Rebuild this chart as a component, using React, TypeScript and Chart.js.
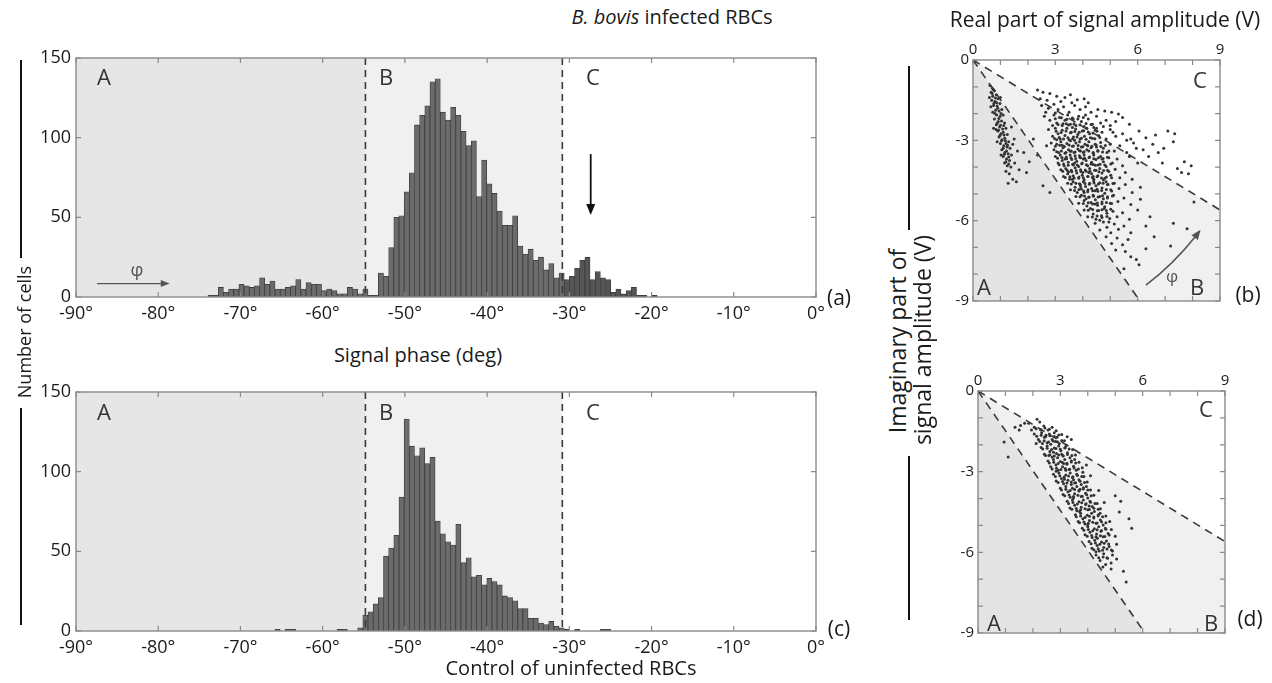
import React, { useEffect, useRef } from "react";
import { Chart, registerables } from "chart.js";
Chart.register(...registerables);

const FONT = "'Open Sans', 'Noto Sans', sans-serif";

// ---------- histogram data ----------
const BIN_START = -53.23; // left edge of bin index 0 (deg)
const BIN_WIDTH = 0.628; // deg
const infectedFirstBin = -33;
const infectedCounts = [
  1, 1, 6, 3, 5, 5, 8, 7, 6, 7, 12, 8, 10, 5, 5, 6, 7, 11, 5, 9, 8, 8, 4, 5, 4, 2, 2, 6, 5, 2, 5, 1, 1,
  15, 13, 31, 50, 51, 66, 78, 108, 114, 120, 135, 137, 116, 111, 119, 114, 104, 95, 98, 63, 86, 71, 65, 54,
  45, 45, 51, 32, 27, 30, 23, 25, 17, 21, 12, 15, 11, 13, 18, 23, 25, 11, 16, 12, 11, 3, 5, 2, 4, 6, 1, 1, 0, 1,
];
const controlFirstBin = -20;
const controlCounts = [
  1, 0, 1, 1, 0, 0, 0, 0, 0, 0, 0, 0, 1, 1, 0, 0, 2, 10, 12, 17,
  21, 47, 52, 60, 84, 133, 116, 110, 115, 105, 109, 69, 61, 56, 54, 67, 43, 46, 34, 35, 29, 33, 31, 29, 22,
  21, 19, 14, 14, 8, 8, 5, 4, 6, 3, 2, 1, 0, 1, 0, 0, 0, 0, 1, 1,
];
const phaseTicks = [-90, -80, -70, -60, -50, -40, -30, -20, -10, 0];
const countTicks = [0, 50, 100, 150];
const boundaryAB = -54.8;
const boundaryBC = -30.85;

// ---------- scatter data (Re, Im) in V ----------
const ampTicks = [0, 1, 2, 3, 4, 5, 6, 7, 8, 9];
const imagTicks = [0, -1, -2, -3, -4, -5, -6, -7, -8, -9];
const lineABEnd = [6.08, -9];
const lineBCEnd = [9, -5.6];

const infectedIQ = [
  [0.62,-0.95],[0.7,-1.05],[0.66,-1.2],[0.78,-1.15],[0.72,-1.35],[0.85,-1.3],[0.68,-1.5],[0.8,-1.55],[0.92,-1.45],[0.75,-1.7],
  [0.88,-1.72],[0.98,-1.62],[0.82,-1.88],[0.95,-1.9],[0.72,-1.95],[1.05,-1.85],[0.86,-2.05],[0.99,-2.1],[0.78,-2.2],[1.1,-2.05],
  [0.92,-2.3],[1.04,-2.28],[0.85,-2.42],[1.15,-2.35],[0.97,-2.5],[1.08,-2.58],[0.9,-2.65],[1.2,-2.55],[1.02,-2.75],[1.13,-2.8],
  [0.95,-2.88],[1.25,-2.78],[1.06,-2.98],[1.18,-3.02],[1.0,-3.12],[1.3,-3.05],[1.12,-3.2],[1.24,-3.25],[1.05,-3.35],[1.35,-3.3],
  [1.16,-3.45],[1.28,-3.5],[1.1,-3.6],[1.4,-3.55],[1.22,-3.7],[1.33,-3.75],[1.15,-3.85],[1.25,-3.95],[1.38,-4.0],[1.2,-4.15],
  [1.32,-4.25],[1.45,-4.45],[1.58,-4.55],[1.52,-3.85],[0.6,-1.4],[0.75,-2.55],[0.88,-3.05],[1.45,-3.15],[1.5,-2.95],[1.62,-3.4],
  [1.4,-2.5],[0.65,-1.75],[1.0,-1.4],[1.12,-2.45],[1.02,-3.55],[1.28,-4.6],[1.68,-4.1],
  [2.05,-3.8],[2.35,-3.55],[1.85,-3.45],[2.2,-2.95],[2.68,-3.2],[2.55,-4.7],[1.95,-4.2],[2.8,-4.95],
  [2.35,-1.12],[2.55,-1.2],[2.8,-1.25],[3.05,-1.35],[3.35,-1.4],[3.55,-1.3],[3.8,-1.48],[2.45,-1.45],[2.7,-1.5],[3.2,-1.55],[4.05,-1.45],
  [2.5,-1.7],[2.75,-1.8],[2.95,-1.65],[3.1,-1.85],[3.3,-1.75],[3.5,-1.95],[3.7,-1.7],[3.9,-1.85],[4.1,-1.75],[4.3,-1.95],
  [4.55,-1.85],[4.8,-1.9],[5.05,-1.95],[2.65,-1.95],[3.0,-1.98],[3.6,-1.6],[4.2,-1.6],
  [2.6,-2.1],[2.8,-2.25],[2.95,-2.05],[3.05,-2.35],[3.15,-2.15],[3.25,-2.45],[3.35,-2.25],[3.45,-2.05],[3.55,-2.4],[3.65,-2.2],
  [3.75,-2.45],[3.85,-2.1],[3.95,-2.3],[4.05,-2.48],[4.2,-2.2],[4.35,-2.4],[4.5,-2.1],[4.65,-2.35],[4.85,-2.25],[5.0,-2.45],
  [5.2,-2.3],[5.45,-2.15],[5.7,-2.4],[2.9,-2.45],[3.4,-2.38],[4.1,-2.05],[4.75,-2.48],[5.3,-2.02],
  [2.75,-2.6],[2.9,-2.85],[3.0,-2.55],[3.1,-2.75],[3.18,-2.95],[3.25,-2.62],[3.35,-2.82],[3.42,-2.55],[3.5,-2.98],[3.58,-2.7],
  [3.66,-2.88],[3.74,-2.58],[3.82,-2.78],[3.9,-2.95],[3.98,-2.65],[4.06,-2.85],[4.15,-2.55],[4.25,-2.75],[4.35,-2.92],[4.45,-2.62],
  [4.58,-2.82],[4.7,-2.7],[4.85,-2.95],[5.0,-2.6],[5.2,-2.85],[5.45,-2.75],[5.75,-2.95],[6.05,-2.65],[6.3,-2.9],[6.65,-2.8],
  [7.35,-2.75],[3.05,-2.98],[3.62,-2.52],[4.4,-2.52],
  [2.85,-3.1],[2.95,-3.35],[3.05,-3.15],[3.12,-3.45],[3.2,-3.05],[3.28,-3.28],[3.35,-3.48],[3.42,-3.12],[3.48,-3.35],[3.55,-3.02],
  [3.62,-3.22],[3.68,-3.45],[3.75,-3.1],[3.82,-3.32],[3.88,-3.05],[3.95,-3.25],[4.02,-3.45],[4.08,-3.15],[4.15,-3.35],[4.22,-3.05],
  [4.3,-3.28],[4.38,-3.48],[4.45,-3.15],[4.55,-3.38],[4.65,-3.08],[4.75,-3.3],[4.88,-3.45],[5.0,-3.15],[5.15,-3.4],[5.35,-3.2],
  [5.6,-3.45],[5.85,-3.1],[6.2,-3.35],[6.55,-3.15],[6.95,-3.3],[7.3,-3.05],[3.25,-3.18],[3.58,-3.4],[3.92,-3.4],[4.18,-3.2],
  [4.5,-3.25],[3.7,-3.0],
  [3.0,-3.6],[3.1,-3.85],[3.18,-3.55],[3.25,-3.75],[3.32,-3.95],[3.4,-3.62],[3.47,-3.82],[3.54,-3.55],[3.6,-3.72],[3.66,-3.92],
  [3.72,-3.58],[3.78,-3.78],[3.85,-3.98],[3.92,-3.65],[3.98,-3.85],[4.05,-3.55],[4.12,-3.75],[4.18,-3.95],[4.25,-3.62],[4.32,-3.82],
  [4.4,-3.55],[4.48,-3.72],[4.56,-3.92],[4.65,-3.6],[4.75,-3.8],[4.85,-3.98],[4.95,-3.65],[5.08,-3.85],[5.25,-3.7],[5.45,-3.95],
  [5.7,-3.6],[6.0,-3.85],[7.7,-3.8],[7.95,-3.95],[3.35,-3.7],[3.7,-3.85],[4.02,-3.7],[4.38,-3.9],[4.7,-3.7],[3.88,-3.58],
  [3.2,-4.1],[3.3,-4.35],[3.38,-4.05],[3.45,-4.25],[3.52,-4.45],[3.58,-4.12],[3.65,-4.32],[3.72,-4.02],[3.78,-4.22],[3.85,-4.42],
  [3.92,-4.1],[3.98,-4.3],[4.05,-4.48],[4.12,-4.15],[4.18,-4.35],[4.25,-4.05],[4.32,-4.25],[4.4,-4.45],[4.48,-4.12],[4.55,-4.32],
  [4.62,-4.05],[4.7,-4.22],[4.8,-4.42],[4.9,-4.12],[5.02,-4.3],[5.18,-4.08],[5.35,-4.4],[5.55,-4.2],[5.8,-4.45],[7.6,-4.2],
  [3.62,-4.45],[4.0,-4.2],[4.38,-4.35],[4.75,-4.48],[3.48,-4.18],[4.22,-4.2],
  [3.45,-4.6],[3.55,-4.85],[3.65,-4.55],[3.72,-4.75],[3.8,-4.95],[3.88,-4.62],[3.95,-4.82],[4.02,-4.55],[4.1,-4.72],[4.18,-4.92],
  [4.25,-4.6],[4.32,-4.8],[4.4,-4.52],[4.48,-4.7],[4.55,-4.9],[4.62,-4.58],[4.7,-4.78],[4.8,-4.98],[4.9,-4.65],[5.02,-4.85],
  [5.15,-4.6],[5.32,-4.8],[5.55,-4.65],[5.8,-4.95],[6.1,-4.75],[4.05,-4.95],[4.45,-4.88],[4.85,-4.55],[3.92,-4.72],
  [3.75,-5.1],[3.85,-5.35],[3.95,-5.05],[4.05,-5.25],[4.15,-5.45],[4.22,-5.12],[4.3,-5.32],[4.38,-5.05],[4.46,-5.22],[4.54,-5.42],
  [4.62,-5.1],[4.7,-5.3],[4.8,-5.48],[4.9,-5.15],[5.0,-5.35],[5.12,-5.05],[5.28,-5.28],[5.5,-5.15],[5.75,-5.4],[6.1,-5.2],
  [4.45,-5.38],[4.75,-5.18],[4.12,-5.18],
  [4.05,-5.6],[4.18,-5.85],[4.28,-5.55],[4.38,-5.75],[4.48,-5.95],[4.58,-5.62],[4.68,-5.82],[4.78,-5.55],[4.88,-5.72],[4.98,-5.92],
  [5.1,-5.65],[5.25,-5.85],[5.45,-5.7],[5.7,-5.95],[6.0,-5.6],[6.45,-5.85],[8.05,-5.3],[4.62,-5.98],
  [4.45,-6.1],[4.62,-6.35],[4.75,-6.05],[4.88,-6.25],[5.02,-6.45],[5.15,-6.12],[5.3,-6.32],[5.5,-6.2],[5.75,-6.45],[6.3,-6.2],
  [7.3,-6.1],[7.8,-6.3],[4.95,-6.05],
  [4.85,-6.6],[5.05,-6.85],[5.25,-6.65],[5.45,-6.9],[5.65,-6.7],[6.6,-6.6],[7.2,-6.95],
  [5.2,-7.1],[5.55,-7.15],[5.75,-7.35],[6.3,-7.05],[5.5,-7.8],[6.05,-7.65],[5.95,-7.45],
  [4.5,-2.55],[5.1,-2.7],[5.6,-3.0],[6.4,-3.6],[6.9,-3.85],[7.45,-4.05],[6.75,-3.45],[5.95,-3.3],[7.1,-2.65],[7.85,-4.25],
];
const infectedIQCore = [
  [3.03,-2.66],[3.21,-2.71],[3.39,-2.65],[3.55,-2.72],[3.71,-2.67],[3.87,-2.7],[4.03,-2.64],[4.2,-2.69],[4.37,-2.73],[4.52,-2.66],
  [2.97,-2.93],[3.14,-2.89],[3.3,-2.95],[3.46,-2.9],[3.63,-2.94],[3.79,-2.88],[3.95,-2.92],[4.12,-2.96],[4.28,-2.9],[4.44,-2.94],[4.62,-2.89],
  [3.0,-3.22],[3.16,-3.18],[3.33,-3.23],[3.5,-3.17],[3.66,-3.21],[3.83,-3.19],[4.0,-3.24],[4.16,-3.18],[4.33,-3.22],[4.49,-3.17],[4.66,-3.23],[4.82,-3.19],
  [3.05,-3.43],[3.22,-3.4],[3.39,-3.45],[3.55,-3.41],[3.72,-3.44],[3.88,-3.39],[4.05,-3.43],[4.22,-3.4],[4.38,-3.45],[4.55,-3.41],[4.72,-3.44],[4.95,-3.4],
  [3.08,-3.67],[3.24,-3.64],[3.41,-3.69],[3.57,-3.65],[3.74,-3.68],[3.9,-3.63],[4.07,-3.67],[4.23,-3.64],[4.4,-3.69],[4.57,-3.65],[4.74,-3.68],[4.9,-3.63],
  [3.14,-3.91],[3.3,-3.88],[3.47,-3.93],[3.63,-3.89],[3.8,-3.92],[3.96,-3.87],[4.13,-3.91],[4.3,-3.88],[4.46,-3.93],[4.63,-3.89],[4.8,-3.92],[5.02,-3.88],
  [3.27,-4.15],[3.43,-4.12],[3.6,-4.17],[3.76,-4.13],[3.93,-4.16],[4.09,-4.11],[4.26,-4.15],[4.43,-4.12],[4.59,-4.17],[4.76,-4.13],[4.95,-4.16],
  [3.36,-4.39],[3.53,-4.36],[3.69,-4.41],[3.86,-4.37],[4.02,-4.4],[4.19,-4.35],[4.35,-4.39],[4.52,-4.36],[4.68,-4.41],[4.86,-4.37],[5.05,-4.4],
  [3.58,-4.63],[3.75,-4.6],[3.91,-4.65],[4.08,-4.61],[4.24,-4.64],[4.41,-4.59],[4.57,-4.63],[4.74,-4.6],[4.92,-4.65],[5.1,-4.61],
  [3.7,-4.87],[3.86,-4.84],[4.03,-4.89],[4.19,-4.85],[4.36,-4.88],[4.52,-4.83],[4.69,-4.87],[4.86,-4.84],[5.05,-4.89],
  [3.9,-5.11],[4.06,-5.08],[4.23,-5.13],[4.39,-5.09],[4.56,-5.12],[4.72,-5.07],[4.9,-5.11],[5.08,-5.08],
  [4.02,-5.36],[4.2,-5.33],[4.36,-5.38],[4.53,-5.34],[4.7,-5.37],[4.86,-5.32],[5.05,-5.36],
  [4.2,-5.61],[4.36,-5.58],[4.53,-5.63],[4.7,-5.59],[4.86,-5.62],[5.02,-5.57],
  [4.35,-5.86],[4.52,-5.83],[4.7,-5.88],[4.88,-5.84],
  [3.1,-2.41],[3.28,-2.38],[3.48,-2.43],[3.68,-2.39],[3.9,-2.42],[4.12,-2.37],[4.3,-2.41],
  [3.0,-2.19],[3.22,-2.16],[3.42,-2.21],[3.62,-2.17],[3.82,-2.2],[4.02,-2.15],
  [0.7,-1.25],[0.82,-1.42],[0.76,-1.62],[0.9,-1.8],[0.8,-2.0],[0.94,-2.18],[0.88,-2.36],[1.0,-2.44],[0.93,-2.62],[1.1,-2.7],
  [0.98,-2.82],[1.16,-2.92],[1.04,-3.02],[1.2,-3.12],[1.1,-3.3],[1.22,-3.4],[1.14,-3.52],[1.3,-3.62],[1.2,-3.8],[1.3,-3.88],
  [0.74,-1.1],[0.86,-1.6],[1.02,-2.0],[0.84,-2.6],[1.26,-3.18],
];

const controlIQ = [
  [1.85,-1.2],[2.05,-1.35],[2.25,-1.15],[2.4,-1.3],[2.55,-1.45],[2.3,-1.45],[2.7,-1.35],[1.95,-1.45],[2.15,-1.05],[2.85,-1.48],
  [2.05,-1.6],[2.2,-1.8],[2.32,-1.55],[2.42,-1.72],[2.52,-1.92],[2.6,-1.6],[2.7,-1.8],[2.78,-1.55],[2.88,-1.72],[2.96,-1.95],
  [3.05,-1.62],[3.15,-1.85],[3.25,-1.7],[2.35,-1.95],[2.65,-1.98],[2.48,-1.65],[2.82,-1.88],[3.4,-1.8],[2.12,-1.95],
  [2.3,-2.1],[2.42,-2.35],[2.52,-2.05],[2.62,-2.25],[2.7,-2.45],[2.78,-2.12],[2.86,-2.32],[2.94,-2.05],[3.02,-2.22],[3.1,-2.42],
  [3.18,-2.1],[3.26,-2.3],[3.35,-2.48],[3.45,-2.18],[3.55,-2.38],[2.58,-2.4],[2.9,-2.48],[3.22,-2.02],[2.75,-2.28],[3.05,-2.35],
  [2.55,-2.6],[2.65,-2.82],[2.75,-2.55],[2.84,-2.75],[2.92,-2.95],[3.0,-2.62],[3.08,-2.82],[3.16,-2.55],[3.24,-2.72],[3.32,-2.92],
  [3.4,-2.6],[3.48,-2.8],[3.58,-2.95],[3.68,-2.65],[3.8,-2.85],[2.85,-2.98],[3.2,-2.95],[3.52,-2.55],[3.12,-2.7],[3.95,-2.75],
  [2.75,-3.1],[2.85,-3.35],[2.95,-3.05],[3.04,-3.25],[3.12,-3.45],[3.2,-3.12],[3.28,-3.32],[3.36,-3.05],[3.44,-3.22],[3.52,-3.42],
  [3.6,-3.1],[3.68,-3.3],[3.76,-3.48],[3.86,-3.18],[3.98,-3.38],[4.1,-3.15],[3.15,-3.28],[3.48,-3.3],[3.82,-3.02],[3.4,-3.48],
  [3.0,-3.62],[3.1,-3.85],[3.2,-3.55],[3.28,-3.75],[3.36,-3.95],[3.44,-3.62],[3.52,-3.82],[3.6,-3.55],[3.68,-3.72],[3.76,-3.92],
  [3.84,-3.6],[3.92,-3.8],[4.0,-3.98],[4.1,-3.68],[4.22,-3.88],[4.4,-3.7],[5.0,-3.9],[3.48,-3.98],[3.72,-3.65],[3.95,-3.55],
  [3.25,-4.1],[3.35,-4.35],[3.44,-4.05],[3.52,-4.25],[3.6,-4.45],[3.68,-4.12],[3.76,-4.32],[3.84,-4.05],[3.92,-4.22],[4.0,-4.42],
  [4.08,-4.1],[4.16,-4.3],[4.24,-4.48],[4.34,-4.18],[4.46,-4.38],[4.6,-4.15],[5.2,-4.1],[5.15,-4.5],[3.7,-4.48],[4.05,-4.28],
  [3.55,-4.6],[3.65,-4.85],[3.74,-4.55],[3.82,-4.75],[3.9,-4.95],[3.98,-4.62],[4.06,-4.82],[4.14,-4.55],[4.22,-4.72],[4.3,-4.92],
  [4.38,-4.6],[4.46,-4.8],[4.56,-4.98],[4.66,-4.65],[4.8,-4.85],[5.5,-4.75],[4.0,-4.98],[4.45,-4.55],
  [3.8,-5.1],[3.9,-5.35],[4.0,-5.05],[4.08,-5.25],[4.16,-5.45],[4.24,-5.12],[4.32,-5.32],[4.4,-5.05],[4.48,-5.22],[4.56,-5.42],
  [4.64,-5.1],[4.74,-5.3],[4.86,-5.15],[5.0,-5.4],[5.6,-5.1],[4.35,-5.48],
  [4.05,-5.6],[4.15,-5.85],[4.25,-5.55],[4.34,-5.75],[4.42,-5.95],[4.5,-5.62],[4.58,-5.82],[4.68,-5.58],[4.78,-5.78],[4.9,-5.95],
  [5.05,-5.7],[4.3,-5.98],
  [4.3,-6.1],[4.45,-6.3],[4.58,-6.05],[4.7,-6.2],[4.85,-6.4],[4.55,-6.55],[4.9,-6.1],[5.05,-6.25],[4.85,-6.62],[5.3,-6.7],
  [5.4,-7.1],[4.65,-6.45],
  [1.35,-1.35],[1.5,-1.45],[1.7,-1.2],[0.95,-1.9],[1.1,-2.45],[1.55,-1.28],
];
const controlIQCore = [
  [2.12,-1.4],[2.28,-1.43],[2.44,-1.38],[2.6,-1.42],
  [2.14,-1.68],[2.3,-1.65],[2.46,-1.7],[2.62,-1.66],[2.78,-1.69],[2.94,-1.64],
  [2.25,-1.88],[2.41,-1.85],[2.57,-1.9],[2.73,-1.86],[2.89,-1.89],[3.05,-1.84],
  [2.36,-2.16],[2.52,-2.13],[2.68,-2.18],[2.84,-2.14],[3.0,-2.17],[3.16,-2.12],[3.32,-2.16],
  [2.46,-2.4],[2.62,-2.37],[2.78,-2.42],[2.94,-2.38],[3.1,-2.41],[3.26,-2.36],[3.42,-2.4],
  [2.6,-2.68],[2.76,-2.65],[2.92,-2.7],[3.08,-2.66],[3.24,-2.69],[3.4,-2.64],[3.56,-2.68],
  [2.7,-2.9],[2.86,-2.87],[3.02,-2.92],[3.18,-2.88],[3.34,-2.91],[3.5,-2.86],[3.66,-2.9],
  [2.82,-3.18],[2.98,-3.15],[3.14,-3.2],[3.3,-3.16],[3.46,-3.19],[3.62,-3.14],[3.78,-3.18],
  [2.92,-3.4],[3.08,-3.37],[3.24,-3.42],[3.4,-3.38],[3.56,-3.41],[3.72,-3.36],[3.88,-3.4],
  [3.04,-3.68],[3.2,-3.65],[3.36,-3.7],[3.52,-3.66],[3.68,-3.69],[3.84,-3.64],[4.0,-3.68],
  [3.16,-3.9],[3.32,-3.87],[3.48,-3.92],[3.64,-3.88],[3.8,-3.91],[3.96,-3.86],[4.12,-3.9],
  [3.3,-4.18],[3.46,-4.15],[3.62,-4.2],[3.78,-4.16],[3.94,-4.19],[4.1,-4.14],[4.26,-4.18],
  [3.42,-4.4],[3.58,-4.37],[3.74,-4.42],[3.9,-4.38],[4.06,-4.41],[4.22,-4.36],[4.38,-4.4],
  [3.58,-4.68],[3.74,-4.65],[3.9,-4.7],[4.06,-4.66],[4.22,-4.69],[4.38,-4.64],[4.54,-4.68],
  [3.7,-4.9],[3.86,-4.87],[4.02,-4.92],[4.18,-4.88],[4.34,-4.91],[4.5,-4.86],[4.66,-4.9],
  [3.86,-5.18],[4.02,-5.15],[4.18,-5.2],[4.34,-5.16],[4.5,-5.19],[4.66,-5.14],
  [3.98,-5.4],[4.14,-5.37],[4.3,-5.42],[4.46,-5.38],[4.62,-5.41],[4.78,-5.36],
  [4.12,-5.68],[4.28,-5.65],[4.44,-5.7],[4.6,-5.66],[4.76,-5.69],
  [4.22,-5.9],[4.38,-5.87],[4.54,-5.92],[4.7,-5.88],[4.86,-5.91],
  [4.4,-6.2],[4.56,-6.17],[4.72,-6.22],
];

// ---------- helpers ----------
function arrowHead(ctx: CanvasRenderingContext2D, x: number, y: number, ang: number, len: number, half: number) {
  ctx.beginPath();
  ctx.moveTo(x, y);
  ctx.lineTo(x - len * Math.cos(ang) + half * Math.sin(ang), y - len * Math.sin(ang) - half * Math.cos(ang));
  ctx.lineTo(x - len * Math.cos(ang) - half * Math.sin(ang), y - len * Math.sin(ang) + half * Math.cos(ang));
  ctx.closePath();
  ctx.fill();
}

function frameAndTicks(chart: any, xt: number[], yt: number[]) {
  const { ctx, chartArea: a, scales } = chart;
  const x = scales.x, y = scales.y;
  ctx.save();
  ctx.strokeStyle = "#8a8a8a";
  ctx.lineWidth = 1.4;
  ctx.setLineDash([]);
  ctx.strokeRect(a.left, a.top, a.right - a.left, a.bottom - a.top);
  ctx.lineWidth = 1.2;
  const L = 5;
  ctx.beginPath();
  xt.forEach((v) => {
    const p = x.getPixelForValue(v);
    ctx.moveTo(p, a.top); ctx.lineTo(p, a.top + L);
    ctx.moveTo(p, a.bottom); ctx.lineTo(p, a.bottom - L);
  });
  yt.forEach((v) => {
    const p = y.getPixelForValue(v);
    ctx.moveTo(a.left, p); ctx.lineTo(a.left + L, p);
    ctx.moveTo(a.right, p); ctx.lineTo(a.right - L, p);
  });
  ctx.stroke();
  ctx.restore();
}

function histPlugin(showArrows: boolean) {
  return {
    id: "histDecor",
    beforeDatasetsDraw(chart: any) {
      const { ctx, chartArea: a, scales } = chart;
      const x = scales.x;
      const xAB = x.getPixelForValue(boundaryAB), xBC = x.getPixelForValue(boundaryBC);
      ctx.save();
      ctx.fillStyle = "#e6e6e6";
      ctx.fillRect(a.left, a.top, xAB - a.left, a.bottom - a.top);
      ctx.fillStyle = "#f0f0f0";
      ctx.fillRect(xAB, a.top, xBC - xAB, a.bottom - a.top);
      ctx.restore();
    },
    afterDatasetsDraw(chart: any) {
      const { ctx, chartArea: a, scales } = chart;
      const x = scales.x, y = scales.y;
      ctx.save();
      ctx.strokeStyle = "#3a3a3a";
      ctx.lineWidth = 1.6;
      ctx.setLineDash([7, 5]);
      [boundaryAB, boundaryBC].forEach((v) => {
        const p = x.getPixelForValue(v);
        ctx.beginPath(); ctx.moveTo(p, a.top); ctx.lineTo(p, a.bottom); ctx.stroke();
      });
      ctx.setLineDash([]);
      if (showArrows) {
        ctx.strokeStyle = "#555"; ctx.fillStyle = "#555"; ctx.lineWidth = 1.4;
        const x0 = x.getPixelForValue(-87.45), x1 = x.getPixelForValue(-78.6), yy = y.getPixelForValue(8.4);
        ctx.beginPath(); ctx.moveTo(x0, yy); ctx.lineTo(x1 - 6, yy); ctx.stroke();
        arrowHead(ctx, x1, yy, 0, 9, 3.5);
        ctx.strokeStyle = "#111"; ctx.fillStyle = "#111"; ctx.lineWidth = 1.8;
        const ax = x.getPixelForValue(-27.4), ay0 = y.getPixelForValue(89.7), ay1 = y.getPixelForValue(51.5);
        ctx.beginPath(); ctx.moveTo(ax, ay0); ctx.lineTo(ax, ay1 - 8); ctx.stroke();
        arrowHead(ctx, ax, ay1, Math.PI / 2, 11, 4.5);
      }
      ctx.restore();
      frameAndTicks(chart, phaseTicks, countTicks);
    },
  };
}

function scatterPlugin(showArc: boolean) {
  return {
    id: "iqDecor",
    beforeDatasetsDraw(chart: any) {
      const { ctx, scales } = chart;
      const x = scales.x, y = scales.y;
      const P = (a: number, b: number) => [x.getPixelForValue(a), y.getPixelForValue(b)];
      ctx.save();
      ctx.fillStyle = "#e4e4e4";
      ctx.beginPath();
      [[0, 0], lineABEnd, [0, -9]].forEach((q, i) => { const [px, py] = P(q[0], q[1]); i ? ctx.lineTo(px, py) : ctx.moveTo(px, py); });
      ctx.closePath(); ctx.fill();
      ctx.fillStyle = "#f0f0f0";
      ctx.beginPath();
      [[0, 0], lineBCEnd, [9, -9], lineABEnd].forEach((q, i) => { const [px, py] = P(q[0], q[1]); i ? ctx.lineTo(px, py) : ctx.moveTo(px, py); });
      ctx.closePath(); ctx.fill();
      ctx.restore();
    },
    afterDatasetsDraw(chart: any) {
      const { ctx, scales } = chart;
      const x = scales.x, y = scales.y;
      const P = (a: number, b: number) => [x.getPixelForValue(a), y.getPixelForValue(b)];
      ctx.save();
      ctx.strokeStyle = "#3a3a3a";
      ctx.lineWidth = 1.6;
      ctx.setLineDash([8, 6]);
      const [ox, oy] = P(0, 0);
      [lineABEnd, lineBCEnd].forEach((q) => {
        const [px, py] = P(q[0], q[1]);
        ctx.beginPath(); ctx.moveTo(ox, oy); ctx.lineTo(px, py); ctx.stroke();
      });
      ctx.setLineDash([]);
      if (showArc) {
        const [sx, sy] = P(6.3, -8.41);
        const [ex, ey] = P(8.31, -6.35);
        const r = Math.hypot(sx - ox, sy - oy);
        const a0 = Math.atan2(sy - oy, sx - ox), a1 = Math.atan2(ey - oy, ex - ox);
        ctx.strokeStyle = "#555"; ctx.fillStyle = "#555"; ctx.lineWidth = 1.6;
        ctx.beginPath(); ctx.arc(ox, oy, r, a0, a1 + 0.03, true); ctx.stroke();
        const hx = ox + r * Math.cos(a1), hy = oy + r * Math.sin(a1);
        arrowHead(ctx, hx, hy, Math.atan2(-Math.cos(a1), Math.sin(a1)), 10, 4);
      }
      ctx.restore();
      frameAndTicks(chart, ampTicks, imagTicks);
    },
  };
}

const tickFont = { family: FONT, size: 18 };

function histConfig(first: number, counts: number[], arrows: boolean): any {
  const data = counts.map((c, i) => ({ x: BIN_START + (first + i + 0.5) * BIN_WIDTH, y: c }));
  return {
    type: "bar",
    data: {
      datasets: [{
        data,
        backgroundColor: data.map((d) => (d.x > boundaryBC ? "#555555" : "#6b6b6b")),
        borderColor: "#3c3c3c",
        borderWidth: 0.8,
        borderSkipped: "bottom",
        barPercentage: 1,
        categoryPercentage: 1,
      }],
    },
    options: {
      animation: false,
      responsive: false,
      layout: { padding: { top: 18, right: 34, left: 0, bottom: 0 } },
      plugins: { legend: { display: false }, tooltip: { enabled: false } },
      scales: {
        x: {
          type: "linear", min: -90, max: 0, offset: false,
          afterBuildTicks: (s: any) => { s.ticks = phaseTicks.map((v) => ({ value: v })); },
          ticks: { callback: (v: any) => v + "°", font: tickFont, color: "#1a1a1a", padding: 6, maxRotation: 0, autoSkip: false },
          grid: { display: false, drawTicks: false }, border: { display: false },
          afterFit: (s: any) => { s.height = 33; },
        },
        y: {
          type: "linear", min: 0, max: 150,
          afterBuildTicks: (s: any) => { s.ticks = countTicks.map((v) => ({ value: v })); },
          ticks: { font: tickFont, color: "#1a1a1a", padding: 5 },
          grid: { display: false, drawTicks: false }, border: { display: false },
          afterFit: (s: any) => { s.width = 56; },
        },
      },
    },
    plugins: [histPlugin(arrows)],
  };
}

function scatterConfig(points: number[][], arc: boolean): any {
  const lab = (v: any) => (Number(v) % 3 === 0 ? String(v) : "");
  return {
    type: "scatter",
    data: {
      datasets: [{
        data: points.map((p) => ({ x: p[0], y: p[1] })),
        backgroundColor: "#333333",
        borderWidth: 0,
        pointRadius: 1.5,
      }],
    },
    options: {
      animation: false,
      responsive: false,
      layout: { padding: { top: 0, right: 20, left: 0, bottom: 10 } },
      plugins: { legend: { display: false }, tooltip: { enabled: false } },
      scales: {
        x: {
          type: "linear", position: "top", min: 0, max: 9,
          afterBuildTicks: (s: any) => { s.ticks = ampTicks.map((v) => ({ value: v })); },
          ticks: { callback: lab, font: { family: FONT, size: 15 }, color: "#1a1a1a", padding: 1, maxRotation: 0, autoSkip: false },
          grid: { display: false, drawTicks: false }, border: { display: false },
          afterFit: (s: any) => { s.height = 30; },
        },
        y: {
          type: "linear", min: -9, max: 0,
          afterBuildTicks: (s: any) => { s.ticks = imagTicks.map((v) => ({ value: v })); },
          ticks: { callback: lab, font: { family: FONT, size: 15 }, color: "#1a1a1a", padding: 4, autoSkip: false },
          grid: { display: false, drawTicks: false }, border: { display: false },
          afterFit: (s: any) => { s.width = 43; },
        },
      },
    },
    plugins: [scatterPlugin(arc)],
  };
}

function ChartBox(props: { left: number; top: number; width: number; height: number; make: () => any }) {
  const ref = useRef<HTMLCanvasElement>(null);
  useEffect(() => {
    const chart = new Chart(ref.current as HTMLCanvasElement, props.make());
    return () => chart.destroy();
  }, []);
  const { left, top, width, height } = props;
  return (
    <div style={{ position: "absolute", left, top, width, height }}>
      <canvas ref={ref} width={width} height={height} style={{ width, height, display: "block" }} />
    </div>
  );
}

function T(props: { x: number; y: number; size: number; color?: string; rotate?: boolean; children: any }) {
  return (
    <div
      style={{
        position: "absolute", left: props.x, top: props.y, whiteSpace: "nowrap",
        transform: `translate(-50%, -50%)${props.rotate ? " rotate(-90deg)" : ""}`,
        fontFamily: FONT, fontSize: props.size, color: props.color || "#1a1a1a", lineHeight: 1,
      }}
    >
      {props.children}
    </div>
  );
}

function VLine(props: { x: number; y0: number; y1: number }) {
  return <div style={{ position: "absolute", left: props.x, top: props.y0, width: 1.6, height: props.y1 - props.y0, background: "#111" }} />;
}

export default function App() {
  return (
    <div style={{ position: "fixed", left: 0, top: 0, width: 1272, height: 683, background: "#fff", overflow: "hidden" }}>
      <ChartBox left={20} top={40} width={830} height={290} make={() => histConfig(infectedFirstBin, infectedCounts, true)} />
      <ChartBox left={20} top={374} width={830} height={290} make={() => histConfig(controlFirstBin, controlCounts, false)} />
      <ChartBox left={930} top={30} width={310} height={284} make={() => scatterConfig([...infectedIQ, ...infectedIQCore], true)} />
      <ChartBox left={935} top={361} width={310} height={285} make={() => scatterConfig([...controlIQ, ...controlIQCore], false)} />

      <T x={672} y={17} size={20}><i>B. bovis</i> infected RBCs</T>
      <T x={1105} y={19} size={21}>Real part of signal amplitude (V)</T>
      <T x={418} y={355} size={20}>Signal phase (deg)</T>
      <T x={571} y={668} size={20}>Control of uninfected RBCs</T>
      <T x={24} y={332} size={18} rotate>Number of cells</T>
      <T x={897} y={341} size={23} rotate>Imaginary part of</T>
      <T x={922} y={340} size={23} rotate>signal amplitude (V)</T>

      <VLine x={20} y0={60} y1={258} />
      <VLine x={20} y0={408} y1={625} />
      <VLine x={908} y0={66} y1={230} />
      <VLine x={908} y0={456} y1={620} />

      <T x={839} y={297} size={21}>(a)</T>
      <T x={839} y={628} size={21}>(c)</T>
      <T x={1248} y={294} size={21}>(b)</T>
      <T x={1250} y={618} size={21}>(d)</T>

      <T x={104} y={76} size={22} color="#333">A</T>
      <T x={386} y={76} size={22} color="#333">B</T>
      <T x={593} y={76} size={22} color="#333">C</T>
      <T x={104} y={411} size={22} color="#333">A</T>
      <T x={386} y={411} size={22} color="#333">B</T>
      <T x={593} y={411} size={22} color="#333">C</T>
      <T x={137} y={269} size={18} color="#555">φ</T>

      <T x={1200} y={79} size={22} color="#333">C</T>
      <T x={984} y={286} size={22} color="#333">A</T>
      <T x={1197} y={286} size={22} color="#333">B</T>
      <T x={1172} y={275} size={17} color="#555">φ</T>
      <T x={1206} y={408} size={22} color="#333">C</T>
      <T x={994} y={622} size={22} color="#333">A</T>
      <T x={1211} y={622} size={22} color="#333">B</T>
    </div>
  );
}
